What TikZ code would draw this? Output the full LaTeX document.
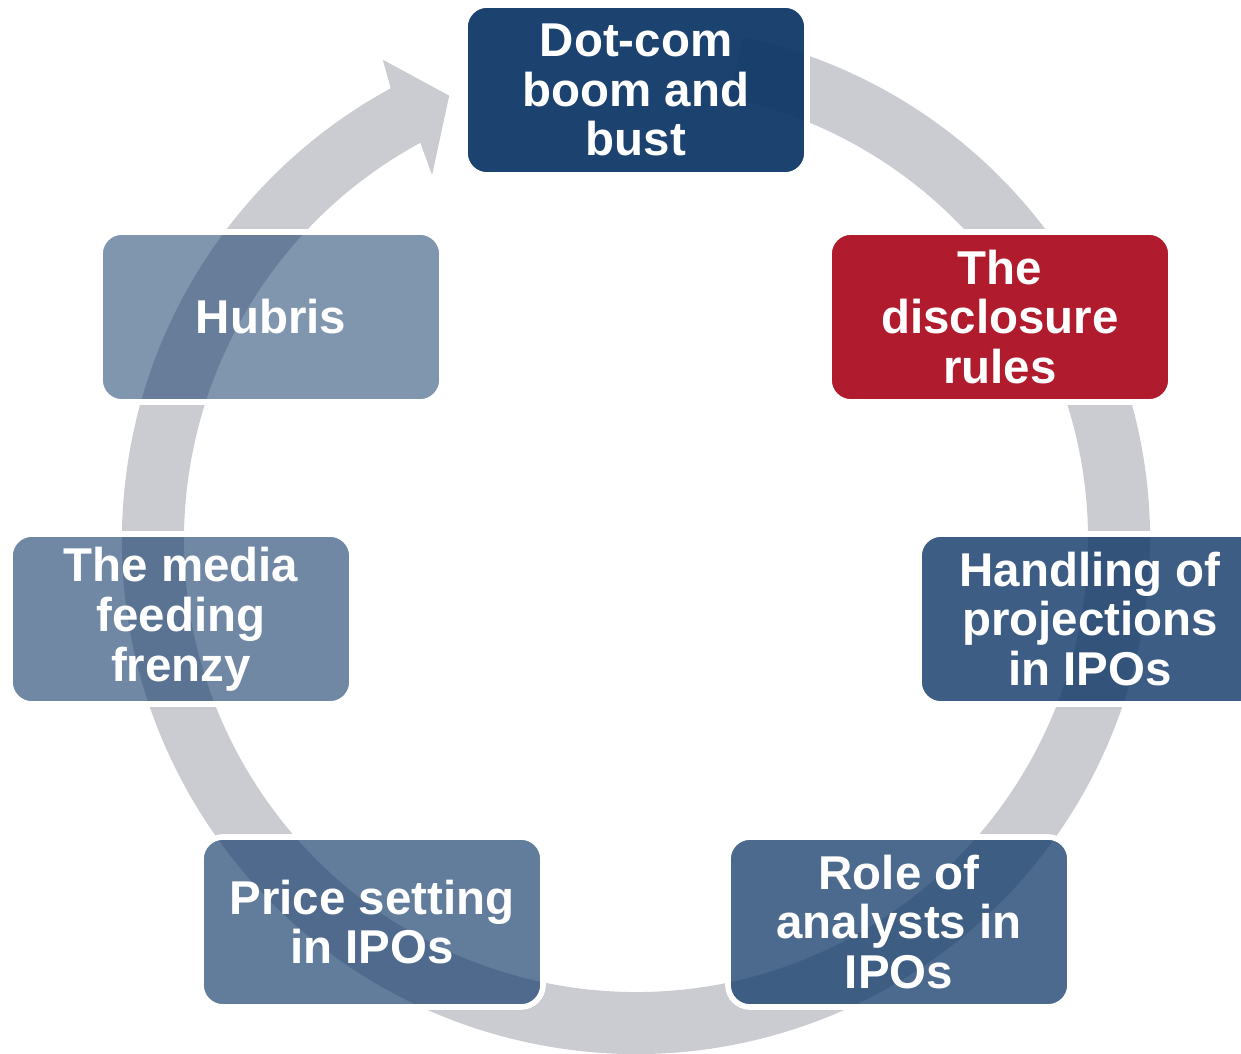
\documentclass[tikz,border=0pt]{standalone}
\usepackage{fontspec}
\setmainfont{Liberation Sans}
\usepackage{xcolor}
\usepackage{tikz}
\usetikzlibrary{calc}

\definecolor{ringgrey}{RGB}{203,204,210}
\definecolor{navy}{RGB}{16,56,104}
\definecolor{crimson}{RGB}{176,28,46}

\begin{document}
\begin{tikzpicture}[thick,
			main node/.style={rectangle,rounded corners=0.22cm,draw=white,line width=1.6pt,
				fill=navy,text=white,text opacity=1,minimum width=3.42cm,minimum height=1.70cm,
				inner sep=0pt,align=center,font=\fontsize{13.5}{14.2}\selectfont\bfseries}]
			\useasboundingbox (-6.36,-5.14) rectangle (6.05,5.40);
			
			% the cycle arrow behind the boxes
			\fill[ringgrey] (78:5.14) arc[start angle=78,end angle=-241.5,radius=5.14]
				-- (117.8:5.43) -- (112.8:4.82) -- (119.2:4.18) -- (118.5:4.52)
				arc[start angle=-241.5,end angle=78,radius=4.52] -- cycle;
			
			\node[main node,fill opacity=0.95] (0) at (0,4.50) {Dot-com\\boom and\\bust};
			\node[main node,fill=crimson] (1) at (3.64,2.23) {The\\disclosure\\rules};
			\node[main node,fill opacity=0.81] (2) at (4.54,-0.79) {Handling of\\projections\\in IPOs};
			\node[main node,fill opacity=0.75] (3) at (2.63,-3.82) {Role of\\analysts in\\IPOs};
			\node[main node,fill opacity=0.66] (4) at (-2.64,-3.82) {Price setting\\in IPOs};
			\node[main node,fill opacity=0.6] (5) at (-4.55,-0.79) {The media\\feeding\\frenzy};
			\node[main node,fill opacity=0.53] (6) at (-3.65,2.23) {Hubris};
		
		\end{tikzpicture}
\end{document}
